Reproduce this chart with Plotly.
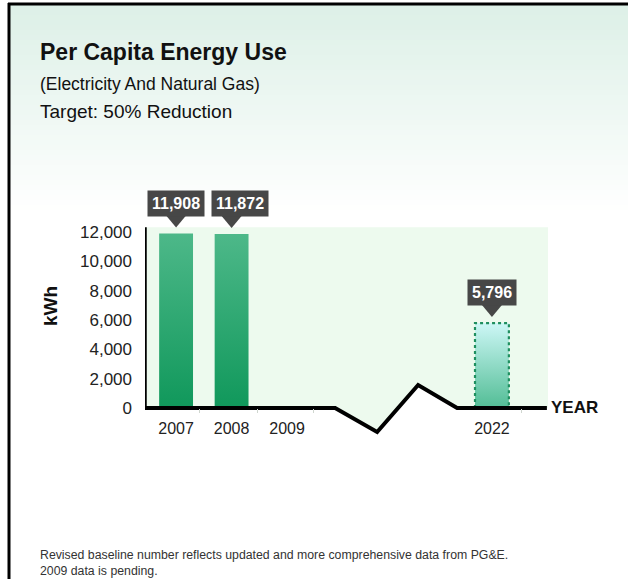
import plotly.graph_objects as go

# ---------------- data ----------------
years = ["2007", "2008", "2009", "2022"]
energy_kwh = [11908, 11872, None, 5796]          # 2009 data pending
value_labels = ["11,908", "11,872", "", "5,796"]
target_year = "2022"
y_tick_vals = [0, 2000, 4000, 6000, 8000, 10000, 12000]
y_tick_text = ["0", "2,000", "4,000", "6,000", "8,000", "10,000", "12,000"]

# ---------------- layout helpers ----------------
W, H = 628, 579
FONT = "Liberation Sans, Arial, Helvetica, sans-serif"


def px(x):
    return x / W


def py(y):
    return 1 - y / H


# slot of each year along the x axis (2009 -> 2022 crosses an axis break)
slot = {"2007": 0.0, "2008": 1.0, "2009": 2.0, "2022": 5.69}
X_RANGE = [-0.56, 6.70]
Y_RANGE = [-2182, 15900]     # headroom above the panel keeps the callouts inside
PANEL_TOP = 12341
BAR_W = 0.61
PX_BOTTOM, PX_TOP = 440, 175

fig = go.Figure()

# bars drawn as gradient-filled polygons on the data axes
for yr, v in zip(years, energy_kwh):
    if v is None:
        continue
    c = slot[yr]
    xs = [c - BAR_W / 2, c - BAR_W / 2, c + BAR_W / 2, c + BAR_W / 2, c - BAR_W / 2]
    ys = [0, v, v, 0, 0]
    if yr == target_year:
        grad = dict(type="vertical", start=0, stop=v,
                    colorscale=[[0, "#52bd95"], [1, "#cdf7f6"]])
        line = dict(color="#1f8f5f", width=2.2, dash="dot")
    else:
        grad = dict(type="vertical", start=0, stop=v,
                    colorscale=[[0, "#10985b"], [1, "#4db889"]])
        line = dict(width=0)
    fig.add_trace(go.Scatter(x=xs, y=ys, mode="lines", fill="toself",
                             fillgradient=grad, line=line,
                             hoverinfo="skip", showlegend=False))

# baseline with the axis-break zigzag
break_x = [X_RANGE[0], 2.865, 3.622, 4.36, 5.063, 6.68]
break_y = [0, 0, -1636, 1568, 0, 0]
fig.add_trace(go.Scatter(x=break_x, y=break_y, mode="lines",
                         line=dict(color="black", width=4),
                         hoverinfo="skip", showlegend=False))

shapes = []

# page background: mint fading to white, then the frame
top_px, bot_px, n = 5, 215, 42
c0, c1 = (221, 240, 231), (255, 255, 255)
for i in range(n):
    t = i / (n - 1)
    col = tuple(round(a + (b - a) * t) for a, b in zip(c0, c1))
    y0 = top_px + (bot_px - top_px) * i / n
    y1 = top_px + (bot_px - top_px) * (i + 1) / n + 0.6
    shapes.append(dict(type="rect", xref="paper", yref="paper", layer="below",
                       x0=px(10), x1=1, y0=py(y1), y1=py(y0),
                       line=dict(width=0), fillcolor="rgb(%d,%d,%d)" % col))

# plot panel, bounded below by the zigzag
panel = "M %g,%g L %g,%g " % (X_RANGE[0], PANEL_TOP, X_RANGE[1], PANEL_TOP)
panel += "L %g,0 " % X_RANGE[1]
for bx, by in reversed(list(zip(break_x, break_y))):
    panel += "L %g,%g " % (bx, by)
panel += "Z"
shapes.append(dict(type="path", xref="x", yref="y", layer="below", path=panel,
                   fillcolor="#edfaee", line=dict(width=0)))

# horizontal gridlines
for v in y_tick_vals[1:]:
    shapes.append(dict(type="line", xref="paper", yref="y", layer="below",
                       x0=px(145), x1=px(548), y0=v, y1=v,
                       line=dict(color="#d3dcd4", width=1)))

# vertical axis line
shapes.append(dict(type="line", xref="x", yref="y", x0=X_RANGE[0], x1=X_RANGE[0],
                   y0=0, y1=PANEL_TOP, line=dict(color="black", width=3.5)))

# frame
shapes.append(dict(type="line", xref="paper", yref="paper", x0=px(9), x1=px(9),
                   y0=0, y1=py(3), line=dict(color="black", width=3)))
shapes.append(dict(type="line", xref="paper", yref="paper", x0=px(8), x1=1,
                   y0=py(4), y1=py(4), line=dict(color="black", width=3)))

annotations = []

# value callouts with a pointer notch
callout_shift = {"2007": 0, "2008": 8, "2022": 0}
for yr, v, lab in zip(years, energy_kwh, value_labels):
    if v is None:
        continue
    annotations.append(dict(x=slot[yr], y=v, xref="x", yref="y", text="<b>%s</b>" % lab,
                            showarrow=False, yanchor="bottom", yshift=17,
                            xshift=callout_shift[yr],
                            bgcolor="#474747", borderpad=4,
                            font=dict(family=FONT, size=16, color="white")))
    shapes.append(dict(type="path", xref="x", yref="y", xsizemode="pixel",
                       ysizemode="pixel", xanchor=slot[yr], yanchor=v,
                       path="M -10,18 L 10,18 L 0,6 Z",
                       fillcolor="#474747", line=dict(width=0)))

# titles and notes
annotations += [
    dict(x=px(38), y=py(52), xref="paper", yref="paper", xanchor="left", yanchor="middle",
         showarrow=False, text="<b>Per Capita Energy Use</b>",
         font=dict(family=FONT, size=23, color="#111111")),
    dict(x=px(38), y=py(84), xref="paper", yref="paper", xanchor="left", yanchor="middle",
         showarrow=False, text="(Electricity And Natural Gas)",
         font=dict(family=FONT, size=17.5, color="#111111")),
    dict(x=px(38), y=py(111), xref="paper", yref="paper", xanchor="left", yanchor="middle",
         showarrow=False, text="Target: 50% Reduction",
         font=dict(family=FONT, size=19, color="#111111")),
    dict(x=px(50), y=py(306), xref="paper", yref="paper", xanchor="center", yanchor="middle",
         showarrow=False, text="<b>kWh</b>", textangle=-90,
         font=dict(family=FONT, size=19, color="#111111")),
    dict(x=px(549), y=py(408), xref="paper", yref="paper", xanchor="left", yanchor="middle",
         showarrow=False, text="<b>YEAR</b>",
         font=dict(family=FONT, size=17, color="#111111")),
    dict(x=px(38), y=py(555), xref="paper", yref="paper", xanchor="left", yanchor="middle",
         showarrow=False,
         text="Revised baseline number reflects updated and more comprehensive data from PG&amp;E.",
         font=dict(family=FONT, size=12.3, color="#333333")),
    dict(x=px(38), y=py(571), xref="paper", yref="paper", xanchor="left", yanchor="middle",
         showarrow=False, text="2009 data is pending.",
         font=dict(family=FONT, size=12.3, color="#333333")),
]

fig.update_layout(
    width=W, height=H, autosize=False,
    margin=dict(l=0, r=0, t=0, b=0),
    paper_bgcolor="white", plot_bgcolor="rgba(0,0,0,0)",
    showlegend=False, hovermode=False,
    font=dict(family=FONT, color="#222222"),
    shapes=shapes, annotations=annotations,
    xaxis=dict(domain=[px(145), px(548)], range=X_RANGE, anchor="free",
               position=py(408), showgrid=False, zeroline=False, showline=False,
               tickmode="array", tickvals=[slot[y] for y in years], ticktext=years,
               ticks="", ticklabelstandoff=9,
               tickfont=dict(family=FONT, size=16, color="#222222"),
               minor=dict(tickmode="array", tickvals=[0.42, 1.46, 2.47, 6.22],
                          ticks="outside", ticklen=4, tickcolor="#cfd6cf", tickwidth=1)),
    yaxis=dict(domain=[py(PX_BOTTOM), py(PX_TOP)], range=Y_RANGE, showgrid=False,
               zeroline=False, showline=False, tickmode="array",
               tickvals=y_tick_vals, ticktext=y_tick_text, ticks="",
               ticklabelstandoff=12,
               tickfont=dict(family=FONT, size=17, color="#222222")),
)

fig.write_html("out.html")
